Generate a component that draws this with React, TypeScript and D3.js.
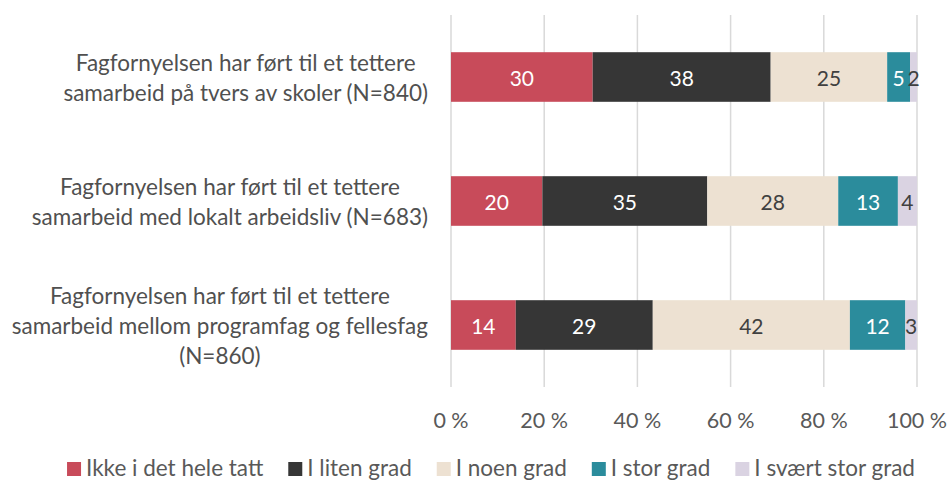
import React, { useEffect, useRef } from "react";
import * as d3 from "d3";

const categories: string[][] = [
  ["Fagfornyelsen har ført til et tettere", "samarbeid på tvers av skoler (N=840)"],
  ["Fagfornyelsen har ført til et tettere", "samarbeid med lokalt arbeidsliv (N=683)"],
  ["Fagfornyelsen har ført til et tettere", "samarbeid mellom programfag og fellesfag", "(N=860)"],
];

const seriesNames = ["Ikke i det hele tatt", "I liten grad", "I noen grad", "I stor grad", "I svært stor grad"];
const ikkeIDetHeleTatt = [30.4, 19.6, 13.9];
const iLitenGrad = [38.2, 35.4, 29.4];
const iNoenGrad = [25.0, 28.1, 42.3];
const iStorGrad = [4.9, 12.8, 11.9];
const iSvaertStorGrad = [1.5, 4.1, 2.5];
const seriesColors = ["#C84B5A", "#363636", "#EDE1D2", "#2B8C9C", "#DAD3E2"];
const labelColors = ["#ffffff", "#ffffff", "#404040", "#ffffff", "#404040"];
const tickValues = [0, 20, 40, 60, 80, 100];

const W = 950;
const H = 481;
const FONT = "Lato, 'Open Sans', sans-serif";

export default function App() {
  const ref = useRef<SVGSVGElement>(null);

  useEffect(() => {
    const svg = d3.select(ref.current);
    svg.selectAll("*").remove();

    const seriesData = [ikkeIDetHeleTatt, iLitenGrad, iNoenGrad, iStorGrad, iSvaertStorGrad];
    const rows = categories.map((_, i) => {
      const o: any = { i };
      seriesNames.forEach((s, k) => (o[s] = seriesData[k][i]));
      return o;
    });
    const stacked = d3.stack<any>().keys(seriesNames).offset(d3.stackOffsetExpand)(rows);

    const x = d3.scaleLinear().domain([0, 1]).range([451, 917]);
    const y = d3
      .scaleBand<number>()
      .domain(categories.map((_, i) => i))
      .range([15, 387])
      .paddingInner(0.6)
      .paddingOuter(0.3);

    // gridlines
    svg
      .append("g")
      .selectAll("line")
      .data(tickValues)
      .join("line")
      .attr("x1", (d) => x(d / 100))
      .attr("x2", (d) => x(d / 100))
      .attr("y1", 15)
      .attr("y2", 387)
      .attr("stroke", "#d9d9d9")
      .attr("stroke-width", 1.5);

    // tick labels
    svg
      .append("g")
      .selectAll("text")
      .data(tickValues)
      .join("text")
      .attr("x", (d) => x(d / 100))
      .attr("y", 420)
      .attr("text-anchor", "middle")
      .attr("dominant-baseline", "central")
      .attr("font-family", FONT)
      .attr("font-size", 21.5)
      .attr("fill", "#595959")
      .text((d) => `${d} %`);

    // bars
    const g = svg.append("g");
    stacked.forEach((layer, k) => {
      const lg = g.append("g");
      lg.selectAll("rect")
        .data(layer)
        .join("rect")
        .attr("x", (d) => x(d[0]))
        .attr("width", (d) => x(d[1]) - x(d[0]))
        .attr("y", (d: any) => y(d.data.i)!)
        .attr("height", y.bandwidth())
        .attr("fill", seriesColors[k]);
      lg.selectAll("text")
        .data(layer)
        .join("text")
        .attr("x", (d) => (x(d[0]) + x(d[1])) / 2)
        .attr("y", (d: any) => y(d.data.i)! + y.bandwidth() / 2)
        .attr("text-anchor", "middle")
        .attr("dominant-baseline", "central")
        .attr("font-family", FONT)
        .attr("font-size", 21)
        .attr("fill", labelColors[k])
        .text((d: any) => String(Math.round(d.data[seriesNames[k]])));
    });

    // category labels
    const lineH = 30;
    categories.forEach((lines, i) => {
      const cy = y(i)! + y.bandwidth() / 2;
      const grp = svg.append("g");
      const texts = grp
        .selectAll("text")
        .data(lines)
        .join("text")
        .attr("y", (_, j) => cy + (j - (lines.length - 1) / 2) * lineH)
        .attr("text-anchor", "middle")
        .attr("dominant-baseline", "central")
        .attr("font-family", FONT)
        .attr("font-size", 22.5)
        .attr("fill", "#505050")
        .text((d) => d);
      let maxW = 0;
      texts.each(function () {
        maxW = Math.max(maxW, (this as SVGTextElement).getComputedTextLength());
      });
      texts.attr("x", 428 - maxW / 2);
    });

    // legend
    const leg = svg.append("g");
    let cx = 0;
    const items: { x: number; k: number }[] = [];
    const lt = leg
      .selectAll("text")
      .data(seriesNames)
      .join("text")
      .attr("y", 467.5)
      .attr("dominant-baseline", "central")
      .attr("font-family", FONT)
      .attr("font-size", 22.5)
      .attr("fill", "#595959")
      .text((d) => d);
    const widths: number[] = [];
    lt.each(function () {
      widths.push((this as SVGTextElement).getComputedTextLength());
    });
    widths.forEach((w, k) => {
      items.push({ x: cx, k });
      cx += 14 + 5 + w + (k < widths.length - 1 ? 25 : 0);
    });
    const startX = 491 - cx / 2;
    lt.attr("x", (_, k) => startX + items[k].x + 19);
    leg
      .selectAll("rect")
      .data(items)
      .join("rect")
      .attr("x", (d) => startX + d.x)
      .attr("y", 462)
      .attr("width", 14)
      .attr("height", 14)
      .attr("fill", (d) => seriesColors[d.k]);
  }, []);

  return (
    <svg
      ref={ref}
      width={W}
      height={H}
      style={{ position: "absolute", left: 0, top: 0, background: "#ffffff" }}
    />
  );
}
